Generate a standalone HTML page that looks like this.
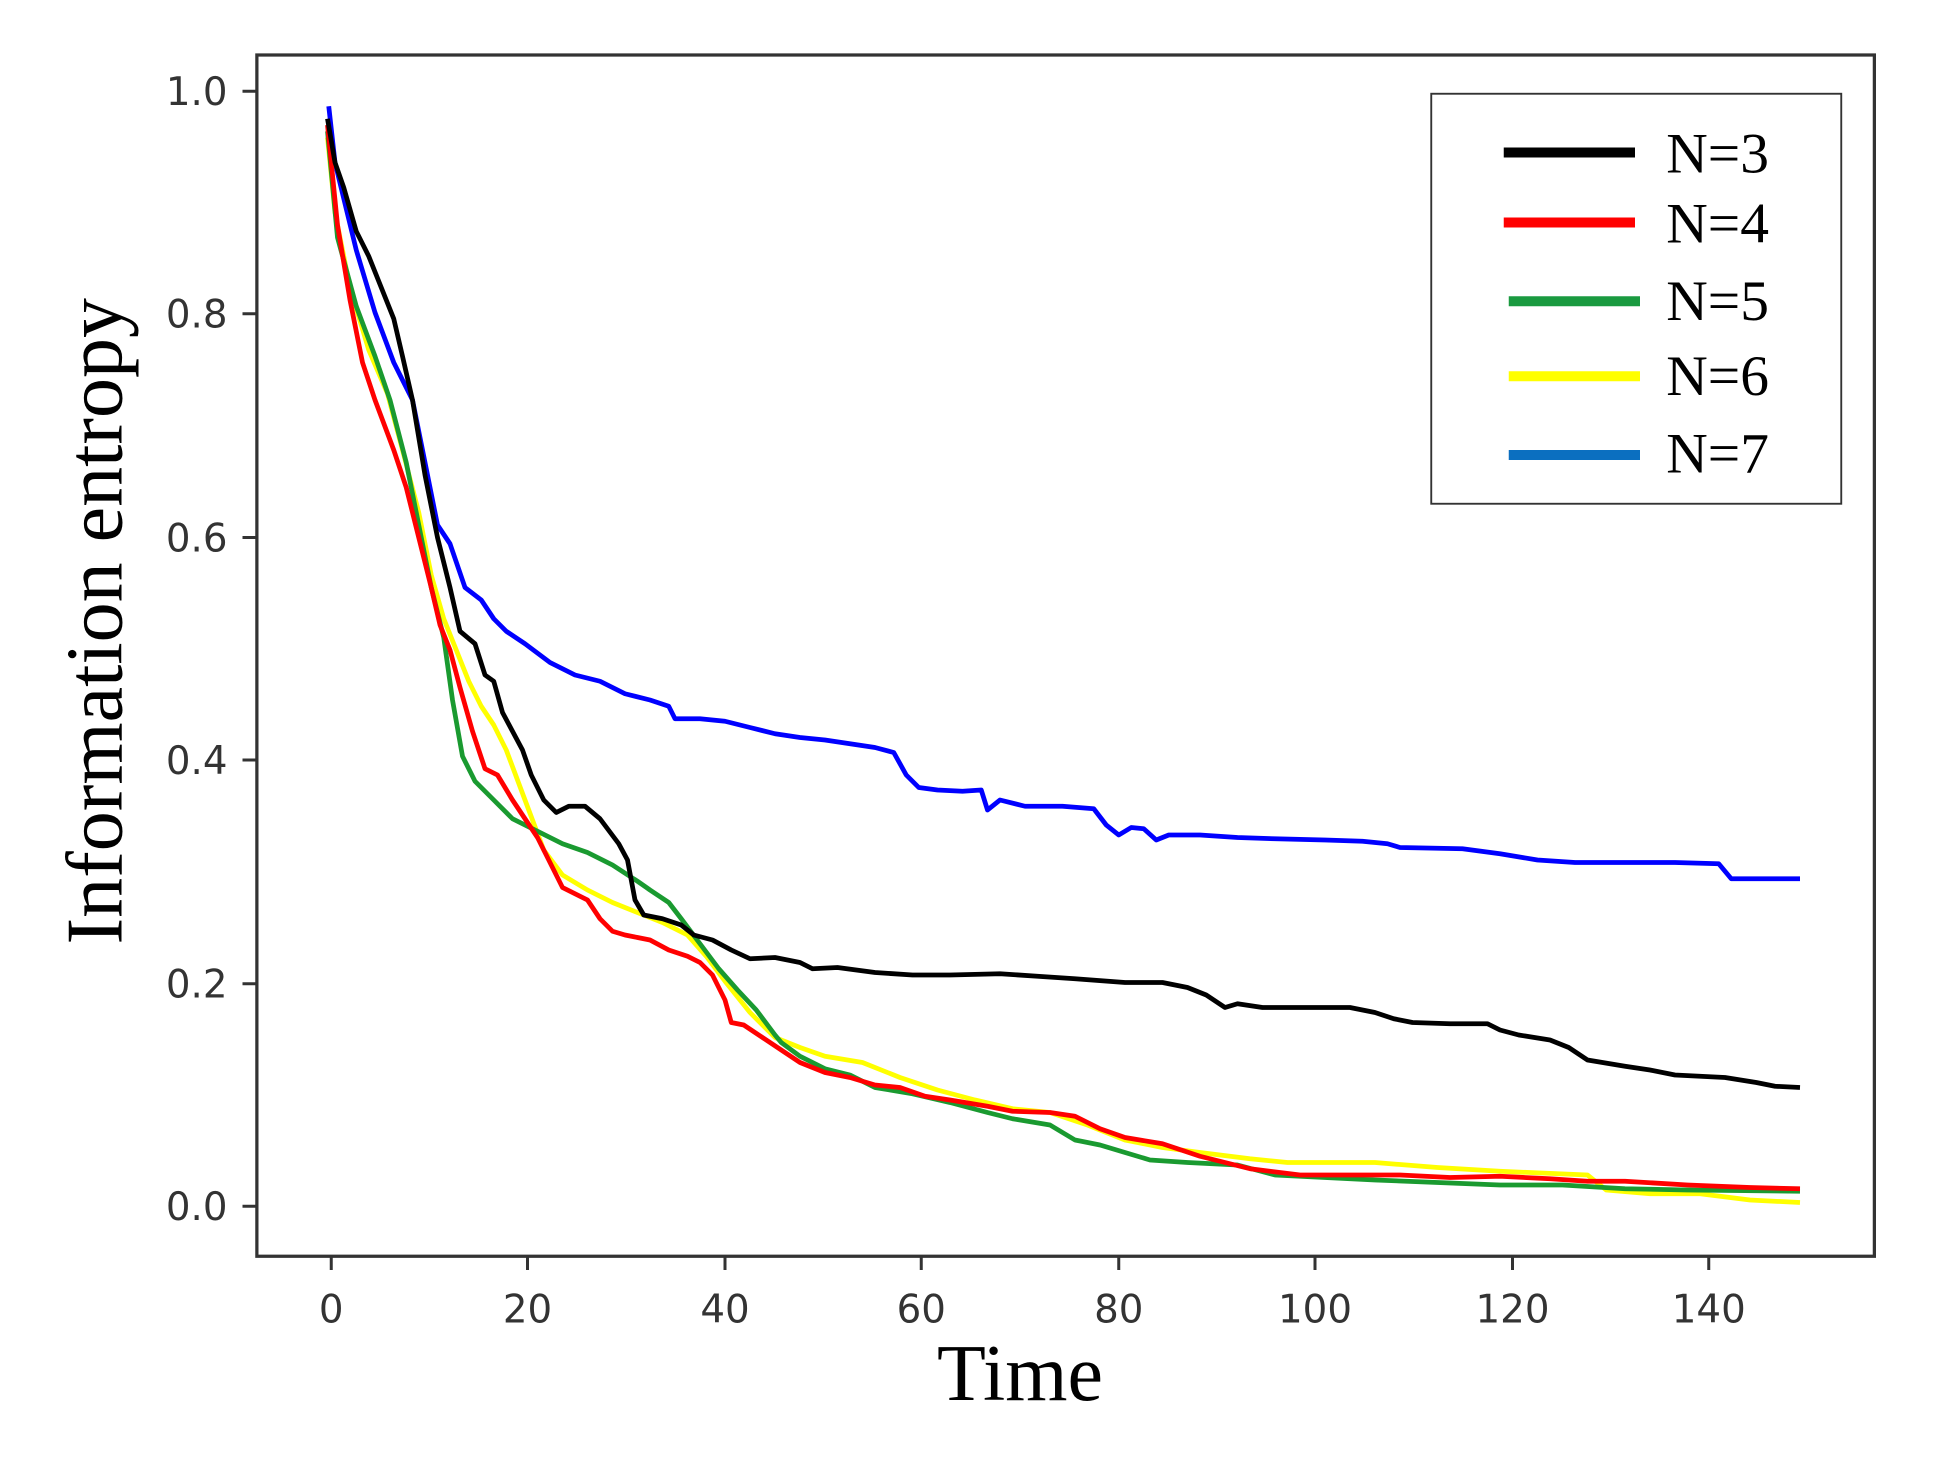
<!DOCTYPE html>
<html><head><style>html,body{margin:0;padding:0;background:#fff}svg{display:block}</style></head>
<body>
<svg width="1958" height="1463" viewBox="0 0 1566.4 1170.4" xmlns="http://www.w3.org/2000/svg">
<rect width="1566.4" height="1170.4" fill="#fff"/>
<g fill="none" stroke-width="3.8" stroke-linejoin="round">
<polyline stroke="#0000ff" points="263,85 268,130 285,200 300,250 315,290 330,320 340,370 350,420 360,435 372,470 385,480 395,495 405,505 420,515 440,530 460,540 480,545 500,555 520,560 535,565 540,575 560,575 580,577 600,582 620,587 640,590 660,592 680,595 700,598 715,602 725,620 735,630 750,632 770,633 785,632 790,648 800,640 820,645 850,645 875,647 885,660 895,668 905,662 915,663 925,672 935,668 960,668 990,670 1020,671 1060,672 1090,673 1110,675 1120,678 1170,679 1200,683 1230,688 1260,690 1300,690 1340,690 1375,691 1385,703 1440,703"/>
<polyline stroke="#ffff00" points="262,110 268,170 280,230 295,280 310,315 322,360 335,410 345,460 355,495 365,520 375,545 385,565 395,580 405,600 420,640 435,680 450,700 470,712 490,722 510,730 530,738 550,748 565,765 580,785 600,810 620,830 640,838 660,845 690,850 720,862 750,872 780,880 810,887 840,890 870,900 900,912 930,918 960,922 1000,927 1030,930 1060,930 1100,930 1150,934 1200,937 1270,940 1285,952 1320,955 1360,955 1400,960 1440,962"/>
<polyline stroke="#1a9a30" points="262,105 270,190 285,245 300,285 312,320 325,370 335,420 345,470 355,510 362,560 370,605 380,625 395,640 410,655 430,665 450,675 470,682 490,692 510,705 520,712 535,722 545,735 560,755 575,775 590,792 605,808 620,828 625,834 640,845 660,855 680,860 700,870 730,875 760,882 790,890 810,895 840,900 860,912 880,916 900,922 920,928 950,930 990,932 1020,940 1060,942 1100,944 1150,946 1200,948 1250,948 1300,951 1350,952 1440,953"/>
<polyline stroke="#ff0000" points="262,100 270,180 280,240 290,290 300,320 315,360 325,390 335,430 345,470 352,500 360,520 368,550 378,585 388,615 398,620 410,640 420,655 430,670 440,690 450,710 460,715 470,720 480,735 490,745 500,748 510,750 520,752 535,760 550,765 560,770 570,780 580,800 585,818 595,820 610,830 625,840 640,850 660,858 680,862 700,868 720,870 740,877 760,880 790,885 810,889 840,890 860,893 880,903 900,910 930,915 960,925 1000,935 1040,940 1080,940 1120,940 1160,942 1200,941 1240,943 1270,945 1300,945 1350,948 1400,950 1440,951"/>
<polyline stroke="#000" points="262,95 268,130 275,150 285,185 295,205 305,230 315,255 322,285 330,320 340,380 350,430 360,470 368,505 380,515 388,540 395,545 402,570 410,585 418,600 425,620 435,640 445,650 455,645 468,645 480,655 495,675 502,688 508,720 515,732 530,735 545,740 555,748 570,752 585,760 600,767 620,766 640,770 650,775 670,774 700,778 730,780 760,780 800,779 830,781 860,783 900,786 930,786 950,790 965,796 980,806 990,803 1010,806 1040,806 1080,806 1100,810 1115,815 1130,818 1160,819 1190,819 1200,824 1215,828 1240,832 1255,838 1270,848 1300,853 1320,856 1340,860 1380,862 1405,866 1420,869 1440,870"/>
</g>
<rect x="205.5" y="44" width="1294" height="961" fill="none" stroke="#333" stroke-width="2.6"/>
<g stroke="#333" stroke-width="2.4">
<line x1="194" y1="73" x2="205" y2="73"/><line x1="194" y1="251" x2="205" y2="251"/><line x1="194" y1="430" x2="205" y2="430"/><line x1="194" y1="608" x2="205" y2="608"/><line x1="194" y1="787" x2="205" y2="787"/><line x1="194" y1="965" x2="205" y2="965"/>
<line x1="265" y1="1005" x2="265" y2="1016"/><line x1="422" y1="1005" x2="422" y2="1016"/><line x1="580" y1="1005" x2="580" y2="1016"/><line x1="737" y1="1005" x2="737" y2="1016"/><line x1="895" y1="1005" x2="895" y2="1016"/><line x1="1052" y1="1005" x2="1052" y2="1016"/><line x1="1210" y1="1005" x2="1210" y2="1016"/><line x1="1367" y1="1005" x2="1367" y2="1016"/>
</g>
<g font-family="DejaVu Sans, Liberation Sans, sans-serif" font-size="31" fill="#333">
<g text-anchor="end"><text x="182" y="84">1.0</text><text x="182" y="262">0.8</text><text x="182" y="441">0.6</text><text x="182" y="619">0.4</text><text x="182" y="798">0.2</text><text x="182" y="976">0.0</text></g>
<g text-anchor="middle"><text x="265" y="1058">0</text><text x="422" y="1058">20</text><text x="580" y="1058">40</text><text x="737" y="1058">60</text><text x="895" y="1058">80</text><text x="1052" y="1058">100</text><text x="1210" y="1058">120</text><text x="1367" y="1058">140</text></g>
</g>
<g font-family="Liberation Serif, serif" fill="#000">
<text x="816" y="1120" font-size="64" text-anchor="middle">Time</text>
<text transform="translate(97,497) rotate(-90)" font-size="64" text-anchor="middle">Information entropy</text>
</g>
<rect x="1145" y="75" width="328" height="328" fill="#fff" stroke="#333" stroke-width="1.5"/>
<g stroke-width="8">
<line x1="1203" y1="122" x2="1308" y2="122" stroke="#000"/>
<line x1="1203" y1="178" x2="1308" y2="178" stroke="#ff0000"/>
<line x1="1207" y1="241" x2="1312" y2="241" stroke="#1a9a40"/>
<line x1="1207" y1="301" x2="1312" y2="301" stroke="#ffff00"/>
<line x1="1207" y1="364" x2="1312" y2="364" stroke="#0b6fc0"/>
</g>
<g font-family="Liberation Serif, serif" font-size="46" fill="#000">
<text x="1333" y="138">N=3</text><text x="1333" y="194">N=4</text><text x="1333" y="256">N=5</text><text x="1333" y="316">N=6</text><text x="1333" y="378">N=7</text>
</g>
</svg>
</body></html>
